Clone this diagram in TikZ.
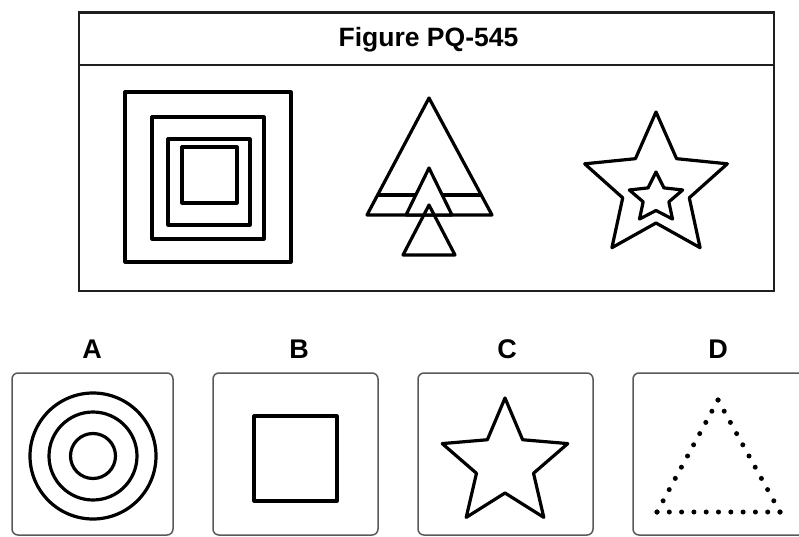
\documentclass[tikz,border=0pt]{standalone}
\usepackage{fontspec}
\setmainfont{Liberation Sans}
\usetikzlibrary{calc}
\begin{document}
\begin{tikzpicture}[x=1pt,y=-1pt,
  frame/.style={draw=black!88,line width=2.4pt},
  shp/.style={draw=black,line width=3.2pt,line join=round},
  optbox/.style={draw=black!65,line width=1.5pt,rounded corners=6pt},
  lbl/.style={font=\bfseries\fontsize{27}{30}\selectfont,anchor=base},
  dotmark/.style={fill=black,circle,inner sep=0pt,minimum size=5pt}]
\useasboundingbox (0,0) rectangle (799,537);
\clip (0,0) rectangle (799,537);
% top frame
\draw[frame] (79,12.5) rectangle (774,291);
\draw[frame] (79,65) -- (774,65);
\node[lbl,font=\bfseries\fontsize{26.5}{30}\selectfont] (title) at (428.5,47) {Figure PQ-545};
% nested squares
\draw[shp] (125,92) rectangle (291,262);
\draw[shp] (152,117) rectangle (264,239);
\draw[shp] (168,139) rectangle (250,225);
\draw[shp] (182,147) rectangle (237,203);
% triangles
\draw[shp] (429,98) -- (492,215) -- (367,215) -- cycle;
\draw[shp] (377.6,195) -- (481.3,195);
\draw[shp,fill=white] (429,168) -- (452,215) -- (406,215) -- cycle;
\draw[shp] (429,205) -- (455,255) -- (403,255) -- cycle;
% stars
\begin{scope}[shift={(656,187)}]
\draw[shp] (-90:75) -- (-54:35) -- (-18:75) -- (18:35) -- (54:75) -- (90:36) -- (126:75) -- (162:35) -- (198:75) -- (234:35) -- cycle;
\end{scope}
\begin{scope}[shift={(656,198)},xscale=1.08]
\draw[shp] (-90:26) -- (-54:12.5) -- (-18:26) -- (18:12.5) -- (54:26) -- (90:12.5) -- (126:26) -- (162:12.5) -- (198:26) -- (234:12.5) -- cycle;
\end{scope}
% option labels
\node[lbl] (la) at (92,358) {A};
\node[lbl] (lb) at (299,358) {B};
\node[lbl] (lc) at (507,358) {C};
\node[lbl] (ld) at (718,358) {D};
% option boxes
\draw[optbox] (12,373) rectangle (173,535);
\draw[optbox] (213,373) rectangle (378,535);
\draw[optbox] (418,373) rectangle (593,535);
\draw[optbox] (633,373) rectangle (815,535);
% A circles
\draw[shp] (93,456) circle (63);
\draw[shp] (93,456) circle (44);
\draw[shp] (93,456) circle (22.5);
% B square
\draw[shp] (254,416) rectangle (337,501);
% C star
\begin{scope}[shift={(505,464)}]
\draw[shp] (-90:66) -- (-54:30) -- (-18:66) -- (18:30) -- (54:66) -- (90:29) -- (126:66) -- (162:30) -- (198:66) -- (234:30) -- cycle;
\end{scope}
% D dotted triangle
\coordinate (dt) at (718,400);
\coordinate (dl) at (657,512);
\coordinate (dr) at (780,512);
\foreach \i in {0,...,10} {
  \node[dotmark] at ($(dt)!\i/10!(dl)$) {};
  \node[dotmark] at ($(dl)!\i/10!(dr)$) {};
  \node[dotmark] at ($(dr)!\i/10!(dt)$) {};
}
\end{tikzpicture}
\end{document}
